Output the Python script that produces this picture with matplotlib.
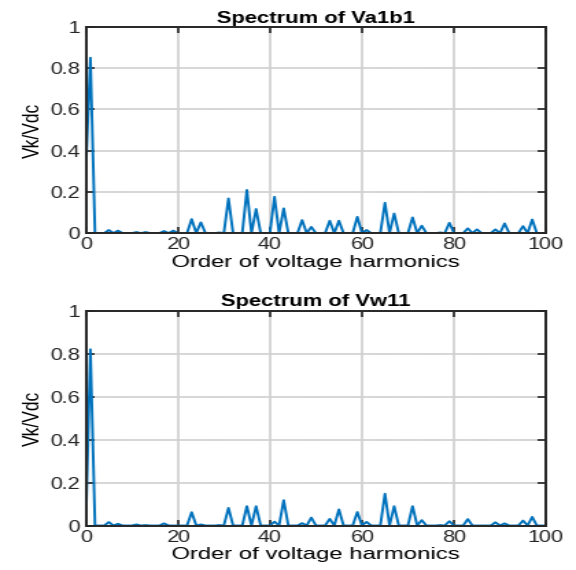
import numpy as np
import matplotlib
matplotlib.use("Agg")
import matplotlib.pyplot as plt

plt.rcParams['font.family'] = ['Liberation Sans', 'DejaVu Sans']

# harmonic order 0..100, odd-harmonic amplitudes (normalised to Vdc)
orders = np.arange(0, 101)

odd_va1b1 = {1: 0.85, 3: 0.0, 5: 0.015, 7: 0.012, 9: 0.0, 11: 0.005, 13: 0.005,
             15: 0.0, 17: 0.01, 19: 0.012, 21: 0.0, 23: 0.068, 25: 0.052,
             27: 0.0, 29: 0.003, 31: 0.168, 33: 0.0, 35: 0.209, 37: 0.117,
             39: 0.0, 41: 0.176, 43: 0.12, 45: 0.0, 47: 0.063, 49: 0.03,
             51: 0.0, 53: 0.06, 55: 0.06, 57: 0.0, 59: 0.079, 61: 0.015,
             63: 0.0, 65: 0.147, 67: 0.095, 69: 0.0, 71: 0.076, 73: 0.036,
             75: 0.0, 77: 0.003, 79: 0.05, 81: 0.0, 83: 0.023, 85: 0.018,
             87: 0.0, 89: 0.018, 91: 0.047, 93: 0.0, 95: 0.034, 97: 0.066,
             99: 0.0}
dc_va1b1 = 0.3

odd_vw11 = {1: 0.82, 3: 0.0, 5: 0.016, 7: 0.008, 9: 0.0, 11: 0.005, 13: 0.002,
            15: 0.0, 17: 0.01, 19: 0.0, 21: 0.0, 23: 0.062, 25: 0.005,
            27: 0.0, 29: 0.002, 31: 0.082, 33: 0.0, 35: 0.09, 37: 0.09,
            39: 0.0, 41: 0.018, 43: 0.118, 45: 0.0, 47: 0.011, 49: 0.037,
            51: 0.0, 53: 0.031, 55: 0.075, 57: 0.0, 59: 0.063, 61: 0.017,
            63: 0.0, 65: 0.148, 67: 0.09, 69: 0.0, 71: 0.09, 73: 0.025,
            75: 0.0, 77: 0.002, 79: 0.02, 81: 0.0, 83: 0.03, 85: 0.0,
            87: 0.0, 89: 0.015, 91: 0.01, 93: 0.0, 95: 0.023, 97: 0.04,
            99: 0.0}
dc_vw11 = 0.0


def build(odd, dc):
    v = np.zeros(len(orders))
    v[0] = dc
    for h, a in odd.items():
        v[h] = a
    return v


va1b1 = build(odd_va1b1, dc_va1b1)
vw11 = build(odd_vw11, dc_vw11)

xticks = [0, 20, 40, 60, 80, 100]
yticks = [0, 0.2, 0.4, 0.6, 0.8, 1]
ytick_labels = ['0', '0.2', '0.4', '0.6', '0.8', '1']

# drawn narrow, then widened to the final size
W_OUT, H_OUT = 576, 570
W_DRAW = 420

fig = plt.figure(figsize=(W_DRAW / 100, H_OUT / 100), dpi=100)
ax1 = fig.add_axes([0.149, 0.591, 0.799, 0.362])
ax2 = fig.add_axes([0.149, 0.078, 0.799, 0.377])

for ax, v, name in [(ax1, va1b1, 'Va1b1'), (ax2, vw11, 'Vw11')]:
    ax.plot(orders, v, color='#0072BD', lw=1.4)
    ax.set_xlim(0, 100)
    ax.set_ylim(0, 1)
    ax.set_xticks(xticks)
    ax.set_yticks(yticks)
    ax.set_yticklabels(ytick_labels)
    ax.grid(True, color='#d0d0d0', lw=1.2)
    ax.set_axisbelow(True)
    ax.tick_params(direction='in', top=True, right=True, length=4,
                   width=1.2, labelsize=11.5, colors='#262626', pad=3)
    for s in ax.spines.values():
        s.set_color('#262626')
        s.set_linewidth(1.4)
    ax.set_title('Spectrum of ' + name, fontsize=11.5, fontweight='bold', pad=3)
    ax.set_xlabel('Order of voltage harmonics', fontsize=12.5, labelpad=2)
    ax.set_ylabel('Vk/Vdc', fontsize=12.5, labelpad=3)

fig.canvas.draw()
img = np.asarray(fig.canvas.buffer_rgba()).astype(float) / 255.0
h_in, w_in = img.shape[:2]

# linear resample along x
xs = (np.arange(W_OUT) + 0.5) * w_in / W_OUT - 0.5
xs = np.clip(xs, 0, w_in - 1)
x0 = np.floor(xs).astype(int)
x1 = np.minimum(x0 + 1, w_in - 1)
t = (xs - x0)[None, :, None]
out = img[:, x0] * (1 - t) + img[:, x1] * t

plt.imsave('out.png', np.clip(out, 0, 1))
